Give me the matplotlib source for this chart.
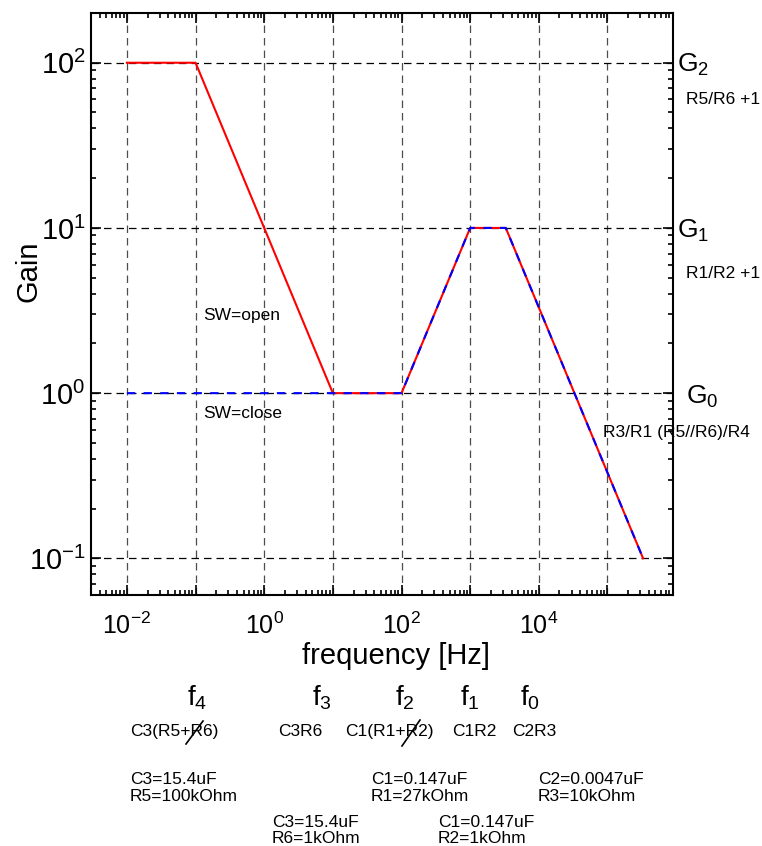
import numpy as np
import matplotlib
matplotlib.use('Agg')
import matplotlib.pyplot as plt
from matplotlib.ticker import LogLocator, FixedLocator, FuncFormatter, NullFormatter
from matplotlib.lines import Line2D

plt.rcParams['font.family'] = ['Liberation Sans', 'DejaVu Sans']
plt.rcParams['mathtext.fontset'] = 'custom'
plt.rcParams['mathtext.rm'] = 'Liberation Sans'
plt.rcParams['mathtext.it'] = 'Liberation Sans:italic'
plt.rcParams['mathtext.bf'] = 'Liberation Sans:bold'
plt.rcParams['mathtext.default'] = 'regular'

# ---- data ----
freq_open = [1e-2, 1e-1, 1e1, 1e2, 1e3, 3.3e3, 3.3e5]
gain_open = [100, 100, 1, 1, 10, 10, 0.1]
freq_close = [1e-2, 1e2, 1e3, 3.3e3, 3.3e5]
gain_close = [1, 1, 10, 10, 0.1]

x_decades = [-2, -1, 0, 1, 2, 3, 4, 5]
y_decades = [-1, 0, 1, 2]

gain_names = [r'$G_2$', r'$G_1$', r'$G_0$']
gain_formulas = ['R5/R6 +1', 'R1/R2 +1', 'R3/R1 (R5//R6)/R4']
corner_names = [r'$f_4$', r'$f_3$', r'$f_2$', r'$f_1$', r'$f_0$']
corner_exprs = ['C3(R5+R6)', 'C3R6', 'C1(R1+R2)', 'C1R2', 'C2R3']
component_upper = [('C3=15.4uF', 'R5=100kOhm'), ('C1=0.147uF', 'R1=27kOhm'),
                   ('C2=0.0047uF', 'R3=10kOhm')]
component_lower = [('C3=15.4uF', 'R6=1kOhm'), ('C1=0.147uF', 'R2=1kOhm')]

W, H = 762, 846
fig = plt.figure(figsize=(W / 100, H / 100), dpi=100)

def P(x, y):
    return (x / W, 1 - y / H)

L, R, T, B = 91, 673, 13, 595
ax = fig.add_axes([L / W, 1 - B / H, (R - L) / W, (B - T) / H])
ax.set_xscale('log')
ax.set_yscale('log')
ax.set_xlim(3e-3, 9e5)
ax.set_ylim(0.06, 200)

ax.plot(freq_open, gain_open, color='red', lw=1.5, zorder=3)
ax.plot(freq_close, gain_close, color='blue', lw=1.5, ls=(0, (4, 4)), zorder=4)

ax.xaxis.set_major_locator(FixedLocator([10.0 ** e for e in x_decades]))
ax.xaxis.set_minor_locator(LogLocator(base=10, subs=np.arange(2, 10), numticks=100))
ax.yaxis.set_major_locator(FixedLocator([10.0 ** e for e in y_decades]))
ax.yaxis.set_minor_locator(LogLocator(base=10, subs=np.arange(2, 10), numticks=100))

def xfmt(v, pos):
    e = int(round(np.log10(v)))
    if e % 2 == 0:
        return '$10^{%s}$' % (str(e).replace('-', '−'))
    return ''

def yfmt(v, pos):
    e = int(round(np.log10(v)))
    return '$10^{%s}$' % (str(e).replace('-', '−'))

ax.xaxis.set_major_formatter(FuncFormatter(xfmt))
ax.yaxis.set_major_formatter(FuncFormatter(yfmt))
ax.xaxis.set_minor_formatter(NullFormatter())
ax.yaxis.set_minor_formatter(NullFormatter())

ax.tick_params(which='both', direction='in', top=True, right=True, width=1.2)
ax.tick_params(which='major', length=7)
ax.tick_params(which='minor', length=3.5)
ax.tick_params(axis='x', which='major', labelsize=18, pad=13)
ax.tick_params(axis='y', which='major', labelsize=21, pad=4)
for s in ax.spines.values():
    s.set_linewidth(1.5)

ax.grid(True, which='major', axis='x', color='0.3', ls=(0, (6, 4)), lw=0.9)
ax.grid(True, which='major', axis='y', color='black', ls=(0, (6, 4)), lw=0.9)

ax.set_xlabel('frequency [Hz]', fontsize=21)
ax.set_ylabel('Gain', fontsize=21)
ax.xaxis.set_label_coords((396 - L) / (R - L), -(656 - B) / (B - T), transform=ax.transAxes)
ax.yaxis.set_label_coords((28 - L) / (R - L), 1 - (271 - T) / (B - T), transform=ax.transAxes)
ax.xaxis.label.set_va('center')
ax.yaxis.label.set_va('center')

SMALL = 12.5

# SW labels
fig.text(*P(203, 315), 'SW=open', fontsize=SMALL, va='center', ha='left')
fig.text(*P(203, 414), 'SW=close', fontsize=SMALL, va='center', ha='left')

# right-side gain labels
g_pos = [(677, 72), (677, 238), (686, 404)]
f_pos = [(686, 99), (686, 273), (603, 432)]
for name, (x, y) in zip(gain_names, g_pos):
    fig.text(*P(x, y), name, fontsize=19, va='baseline', ha='left')
for txt, (x, y) in zip(gain_formulas, f_pos):
    fig.text(*P(x, y), txt, fontsize=SMALL, va='center', ha='left')

# corner-frequency labels
fn_x = [187, 312, 395, 460, 520]
ce_x = [130, 278, 345, 452, 512]
for name, x in zip(corner_names, fn_x):
    fig.text(*P(x, 705), name, fontsize=20, va='baseline', ha='left')
for txt, x in zip(corner_exprs, ce_x):
    fig.text(*P(x, 736), txt, fontsize=SMALL, va='baseline', ha='left')

# strike-through marks
for (x0, y0, x1, y1) in [(186, 744, 203, 721), (402, 746, 420, 720)]:
    fig.add_artist(Line2D([x0 / W, x1 / W], [1 - y0 / H, 1 - y1 / H],
                          transform=fig.transFigure, color='black', lw=1.2))

# component values
up_x = [130, 371, 538]
for (a, b), x in zip(component_upper, up_x):
    fig.text(*P(x, 784), a, fontsize=SMALL, va='baseline', ha='left')
    fig.text(*P(x, 801), b, fontsize=SMALL, va='baseline', ha='left')
lo_x = [272, 438]
for (a, b), x in zip(component_lower, lo_x):
    fig.text(*P(x, 827), a, fontsize=SMALL, va='baseline', ha='left')
    fig.text(*P(x, 843), b, fontsize=SMALL, va='baseline', ha='left')

fig.savefig('out.png', dpi=100)
